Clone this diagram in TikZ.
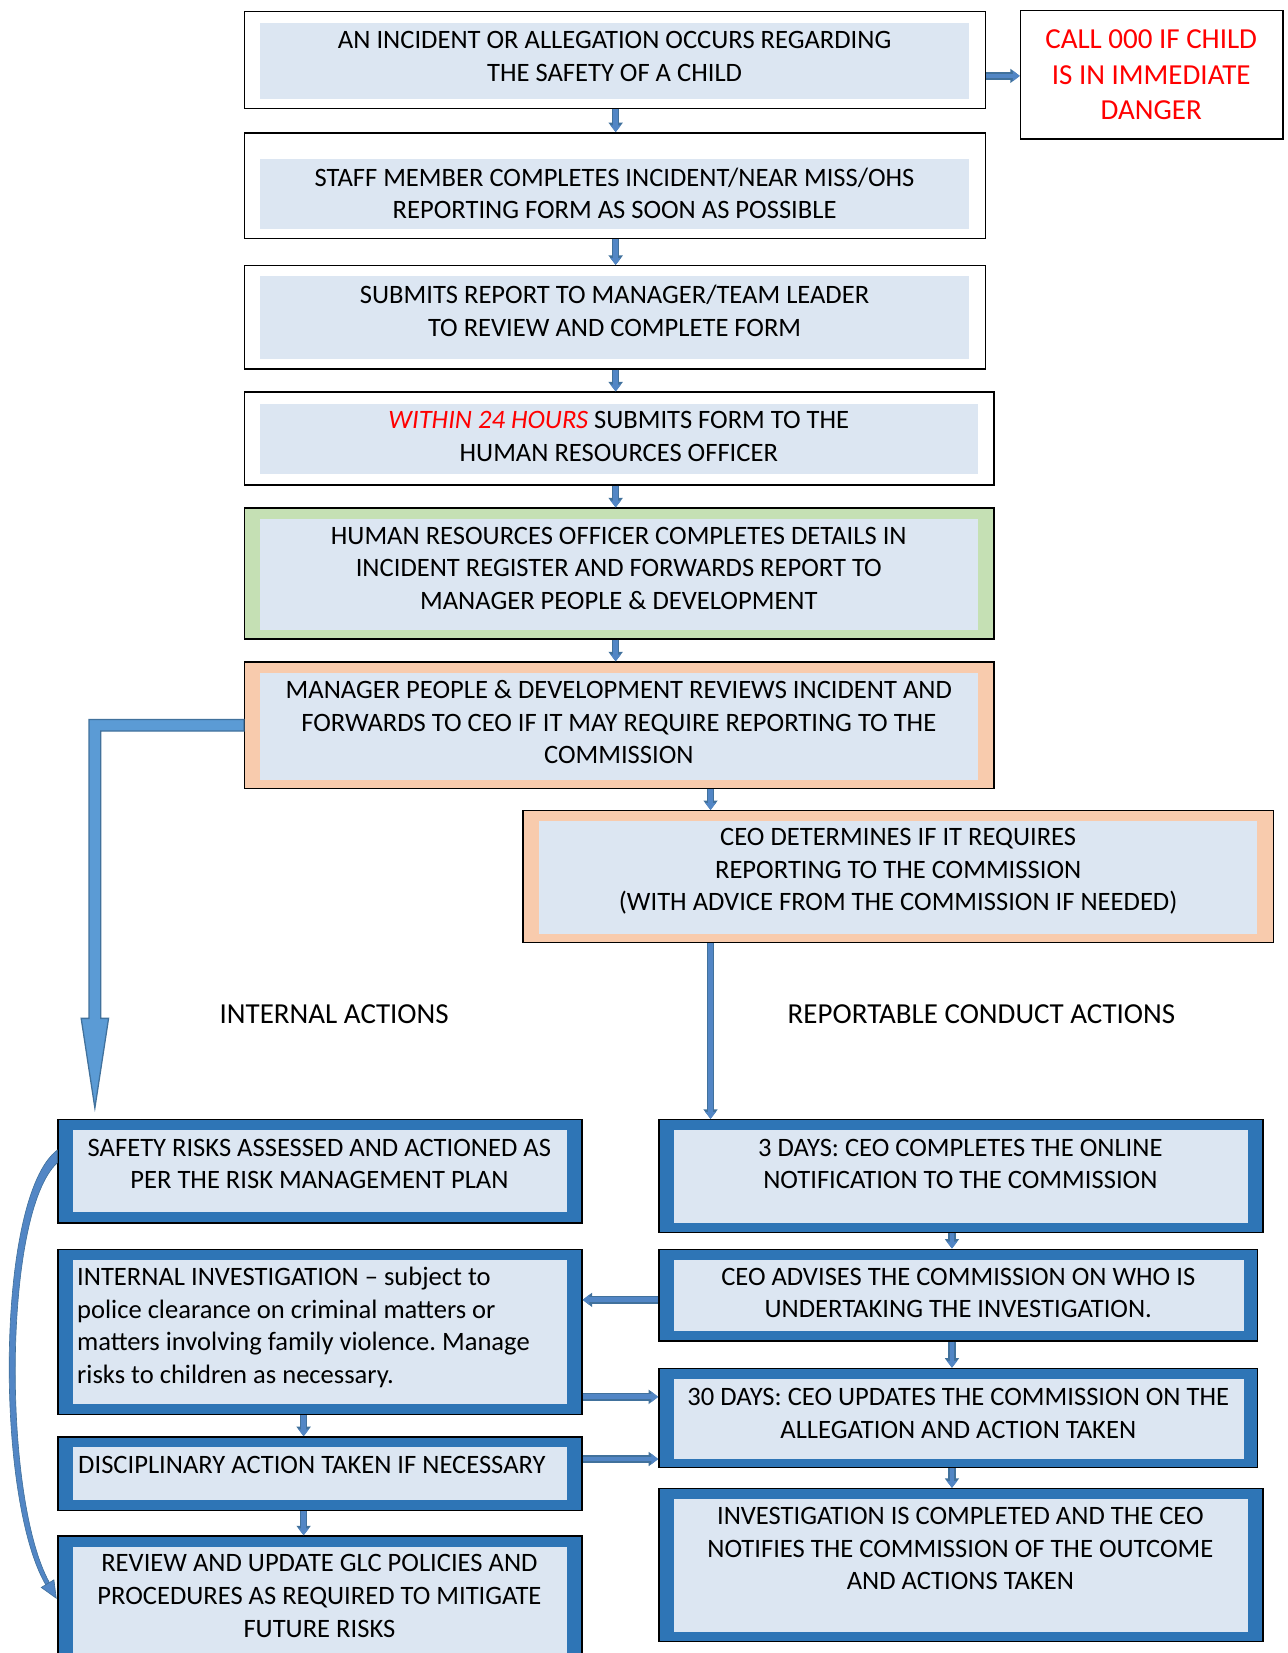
\documentclass[tikz,border=0pt]{standalone}
\usepackage{fontspec}
\setmainfont{Carlito}
\usetikzlibrary{calc,arrows.meta}
\frenchspacing
\definecolor{fillblue}{HTML}{DCE6F2}
\definecolor{bandblue}{HTML}{2E75B6}
\definecolor{bandgreen}{HTML}{C5E0B4}
\definecolor{bandorange}{HTML}{F8CBAD}
\definecolor{arrblue}{HTML}{5286C5}
\definecolor{arrdark}{HTML}{41719C}
\definecolor{bigblue}{HTML}{5B9BD5}
\definecolor{bigedge}{HTML}{41719C}
\definecolor{txtred}{HTML}{FF0000}
\newcommand\bxfont{\fontsize{25.2}{31}\selectfont}
\newcommand\lblfont{\fontsize{27.5}{34}\selectfont}
\tikzset{
  boxbase/.style={draw=black, line width=1.3pt, rectangle, inner sep=0pt},
  inset/.style n args={4}{path picture={\fill[fillblue]
      ($(path picture bounding box.north west)+(#1,#2)$) rectangle
      ($(path picture bounding box.south east)+(-#3,-#4)$);}},
  wbox/.style={boxbase, fill=white},
  gbox/.style={boxbase, fill=bandgreen},
  obox/.style={boxbase, fill=bandorange},
  bbox/.style={boxbase, fill=bandblue},
  txt/.style={align=center, inner sep=0pt, font=\bxfont},
  ltxt/.style={align=left, inner sep=0pt, font=\bxfont, anchor=west},
  lbl/.style={inner sep=0pt, font=\lblfont},
  conn/.style={preaction={draw=arrdark, line width=7pt, -{Triangle[width=13pt,length=9pt]}},
               draw=arrblue, line width=4.5pt, -{Triangle[width=9.5pt,length=6.5pt]}},
}
\begin{document}
\begin{tikzpicture}[x=1pt,y=-1pt]
\clip (0,0) rectangle (1221,1568);
% boxes
\node[wbox, inset={15}{11}{16}{9}, minimum width=703pt, minimum height=92pt] (b1) at (583.5,57) {};
\node[wbox, minimum width=249pt, minimum height=122pt] (call) at (1092.5,71) {};
\node[wbox, inset={15}{25}{16}{9}, minimum width=703pt, minimum height=100pt] (b2) at (583.5,176) {};
\node[wbox, inset={15}{10}{16}{9}, minimum width=703pt, minimum height=98pt] (b3) at (583.5,301) {};
\node[wbox, inset={15}{11}{15}{10}, minimum width=711pt, minimum height=88pt] (b4) at (587.5,416) {};
\node[gbox, inset={15}{10}{15}{8}, minimum width=711pt, minimum height=124pt] (b5) at (587.5,544) {};
\node[obox, inset={15}{10}{15}{8}, minimum width=711pt, minimum height=120pt] (b6) at (587.5,688) {};
\node[obox, inset={15}{10}{16}{8}, minimum width=712pt, minimum height=125pt] (b7) at (852,831.5) {};
\node[bbox, inset={14}{10}{14}{10}, minimum width=497pt, minimum height=98pt] (L1) at (303.5,1111) {};
\node[bbox, inset={14}{10}{14}{10}, minimum width=497pt, minimum height=157pt] (L2) at (303.5,1263.5) {};
\node[bbox, inset={14}{10}{14}{10}, minimum width=497pt, minimum height=70pt] (L3) at (303.5,1398) {};
\node[bbox, inset={14}{10}{14}{10}, minimum width=497pt, minimum height=121pt] (L4) at (303.5,1517.5) {};
\node[bbox, inset={14}{10}{14}{9}, minimum width=573pt, minimum height=107pt] (R1) at (911.5,1115.5) {};
\node[bbox, inset={14}{10}{13}{9}, minimum width=568pt, minimum height=87pt] (R2) at (909,1228.5) {};
\node[bbox, inset={14}{10}{13}{8}, minimum width=568pt, minimum height=94pt] (R3) at (909,1345) {};
\node[bbox, inset={14}{10}{14}{9}, minimum width=573pt, minimum height=145pt] (R4) at (911.5,1484.5) {};
% texts
\node[txt] (t1) at (583,53.5) {AN INCIDENT OR ALLEGATION OCCURS REGARDING\\THE SAFETY OF A CHILD};
\node[txt, font=\lblfont, text=txtred] (tcall) at (1092,71) {CALL 000 IF CHILD\\IS IN IMMEDIATE\\DANGER};
\node[txt] (t2) at (583,183.5) {STAFF MEMBER COMPLETES INCIDENT/NEAR MISS/OHS\\REPORTING FORM AS SOON AS POSSIBLE};
\node[txt] (t3) at (583,295) {SUBMITS REPORT TO MANAGER/TEAM LEADER\\TO REVIEW AND COMPLETE FORM};
\node[txt] (t4) at (587,414) {\textcolor{txtred}{\itshape WITHIN 24 HOURS} SUBMITS FORM TO THE\\HUMAN RESOURCES OFFICER};
\node[txt] (t5) at (587,539) {HUMAN RESOURCES OFFICER COMPLETES DETAILS IN\\INCIDENT REGISTER AND FORWARDS REPORT TO\\MANAGER PEOPLE \& DEVELOPMENT};
\node[txt] (t6) at (587,685) {MANAGER PEOPLE \& DEVELOPMENT REVIEWS INCIDENT AND\\FORWARDS TO CEO IF IT MAY REQUIRE REPORTING TO THE\\COMMISSION};
\node[txt] (t7) at (852,826.5) {CEO DETERMINES IF IT REQUIRES\\REPORTING TO THE COMMISSION\\(WITH ADVICE FROM THE COMMISSION IF NEEDED)};
\node[lbl] (lint) at (317,962) {INTERNAL ACTIONS};
\node[lbl] (lrep) at (931,962) {REPORTABLE CONDUCT ACTIONS};
\node[txt] (tL1) at (303,1104) {SAFETY RISKS ASSESSED AND ACTIONED AS\\PER THE RISK MANAGEMENT PLAN};
\node[ltxt] (tL2) at (73,1259) {INTERNAL INVESTIGATION – subject to\\police clearance on criminal matters or\\matters involving family violence. Manage\\risks to children as necessary.};
\node[ltxt] (tL3) at (74,1390) {DISCIPLINARY ACTION TAKEN IF NECESSARY};
\node[txt] (tL4) at (303,1514) {REVIEW AND UPDATE GLC POLICIES AND\\PROCEDURES AS REQUIRED TO MITIGATE\\FUTURE RISKS};
\node[txt] (tR1) at (911,1104) {3 DAYS: CEO COMPLETES THE ONLINE\\NOTIFICATION TO THE COMMISSION};
\node[txt] (tR2) at (909,1226.5) {CEO ADVISES THE COMMISSION ON WHO IS\\UNDERTAKING THE INVESTIGATION.};
\node[txt] (tR3) at (909,1340.5) {30 DAYS: CEO UPDATES THE COMMISSION ON THE\\ALLEGATION AND ACTION TAKEN};
\node[txt] (tR4) at (911,1469) {INVESTIGATION IS COMPLETED AND THE CEO\\NOTIFIES THE COMMISSION OF THE OUTCOME\\AND ACTIONS TAKEN};
% guide coordinates
\coordinate (xM) at (584,0);
\coordinate (xR) at (674,0);
\coordinate (xR2) at (903,0);
\coordinate (xL) at (288,0);
\coordinate (yCall) at (0,72);
\coordinate (yA) at (0,1233);
\coordinate (yB) at (0,1325);
\coordinate (yC) at (0,1384);
\coordinate (bigtip) at (90,1051);
% connectors
\draw[conn] (b1.east |- yCall) -- (call.west |- yCall);
\draw[conn] (b1.south -| xM) -- (b2.north -| xM);
\draw[conn] (b2.south -| xM) -- (b3.north -| xM);
\draw[conn] (b3.south -| xM) -- (b4.north -| xM);
\draw[conn] (b4.south -| xM) -- (b5.north -| xM);
\draw[conn] (b5.south -| xM) -- (b6.north -| xM);
\draw[conn] (b6.south -| xR) -- (b7.north -| xR);
\draw[conn] (b7.south -| xR) -- (R1.north -| xR);
\draw[conn] (R1.south -| xR2) -- (R2.north -| xR2);
\draw[conn] (R2.south -| xR2) -- (R3.north -| xR2);
\draw[conn] (R3.south -| xR2) -- (R4.north -| xR2);
\draw[conn] (R2.west |- yA) -- (L2.east |- yA);
\draw[conn] (L2.east |- yB) -- (R3.west |- yB);
\draw[conn] (L3.east |- yC) -- (R3.west |- yC);
\draw[conn] (L2.south -| xL) -- (L3.north -| xL);
\draw[conn] (L3.south -| xL) -- (L4.north -| xL);
% big arrow
\filldraw[fill=bigblue, draw=bigedge, line width=1.2pt]
  ($(b6.west)+(0,-5.5)$) -- ($(bigtip |- b6.west)+(-5.5,-5.5)$)
  -- ($(bigtip)+(-5.5,-85)$) -- ($(bigtip)+(-13,-85)$) -- (bigtip)
  -- ($(bigtip)+(13,-85)$) -- ($(bigtip)+(5.5,-85)$)
  -- ($(bigtip |- b6.west)+(5.5,5.5)$) -- ($(b6.west)+(0,5.5)$) -- cycle;
% curved tapered arrow
\filldraw[fill=arrblue, draw=arrdark, line width=0.6pt]
  ($(L1.west)+(0,-20)$) .. controls (-4,1135) and (-5,1420) .. ($(L4.west)+(-11,-14.3)$)
  -- ($(L4.west)+(-7.5,-16.3)$) .. controls (2,1420) and (3,1150) .. ($(L1.west)+(0,-8)$) -- cycle;
\filldraw[fill=arrblue, draw=arrdark, line width=0.6pt]
  ($(L4.west)+(-1,-1.5)$) -- ($(L4.west)+(-3.2,-18.9)$) -- ($(L4.west)+(-15.2,-11.7)$) -- cycle;
\end{tikzpicture}
\end{document}
